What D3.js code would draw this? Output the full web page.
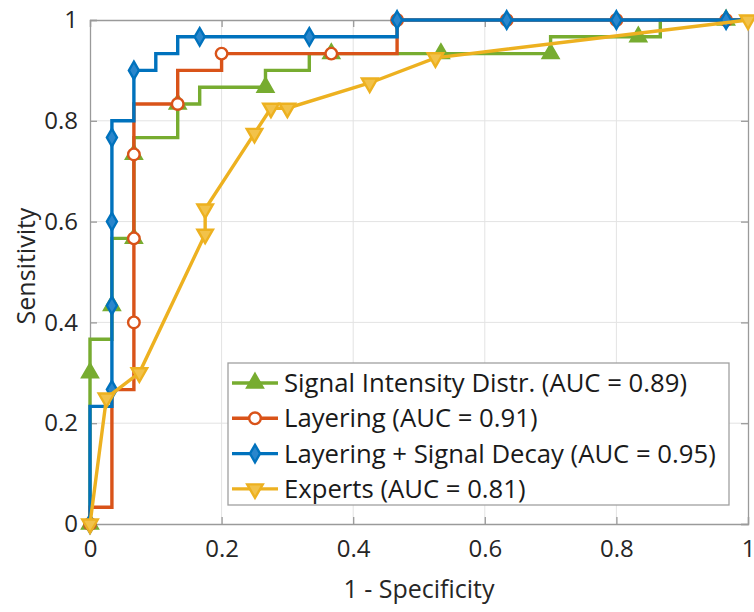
<!DOCTYPE html>
<html>
<head>
<meta charset="utf-8">
<script src="https://cdn.jsdelivr.net/npm/d3@7"></script>
<style>
  body { margin: 0; background: #fff; }
  svg text { font-family: "Open Sans", sans-serif; }
</style>
</head>
<body>
<svg id="chart"></svg>
<script>
// ROC curves (x = 1 - specificity, y = sensitivity)
const sigFpr = [0, 0, 0, 0.0333, 0.0333, 0.0667, 0.0667, 0.1333, 0.1333, 0.1667, 0.1667, 0.2667, 0.2667, 0.3333, 0.3333, 0.7, 0.7, 0.8667, 0.8667, 1];
const sigTpr = [0, 0.3, 0.3667, 0.3667, 0.5667, 0.5667, 0.7667, 0.7667, 0.8333, 0.8333, 0.8667, 0.8667, 0.9, 0.9, 0.9333, 0.9333, 0.9667, 0.9667, 1, 1];
const sigMarkFpr = [0, 0, 0.0333, 0.0667, 0.0667, 0.1333, 0.2667, 0.3667, 0.5333, 0.7, 0.8333, 0.9667];
const sigMarkTpr = [0, 0.3, 0.4333, 0.5667, 0.7333, 0.8333, 0.8667, 0.9333, 0.9333, 0.9333, 0.9667, 1];

const layFpr = [0, 0, 0.0333, 0.0333, 0.0667, 0.0667, 0.1333, 0.1333, 0.2, 0.2, 0.4667, 0.4667, 1];
const layTpr = [0, 0.0333, 0.0333, 0.2667, 0.2667, 0.8333, 0.8333, 0.9, 0.9, 0.9333, 0.9333, 1, 1];
const layMarkFpr = [0, 0.0667, 0.0667, 0.0667, 0.1333, 0.2, 0.3667, 0.4667, 0.6333, 0.8, 0.9667];
const layMarkTpr = [0, 0.4, 0.5667, 0.7333, 0.8333, 0.9333, 0.9333, 1, 1, 1, 1];

const decFpr = [0, 0, 0.0333, 0.0333, 0.0667, 0.0667, 0.1, 0.1, 0.1333, 0.1333, 0.4667, 0.4667, 1];
const decTpr = [0, 0.2333, 0.2333, 0.8, 0.8, 0.9, 0.9, 0.9333, 0.9333, 0.9667, 0.9667, 1, 1];
const decMarkFpr = [0, 0.0333, 0.0333, 0.0333, 0.0333, 0.0667, 0.1667, 0.3333, 0.4667, 0.6333, 0.8, 0.9667];
const decMarkTpr = [0, 0.2667, 0.4333, 0.6, 0.7667, 0.9, 0.9667, 0.9667, 1, 1, 1, 1];

const expFpr = [0, 0.025, 0.075, 0.175, 0.175, 0.25, 0.275, 0.3, 0.425, 0.525, 1];
const expTpr = [0, 0.25, 0.3, 0.575, 0.625, 0.775, 0.825, 0.825, 0.875, 0.925, 1];

const seriesNames = [
  "Signal Intensity Distr. (AUC = 0.89)",
  "Layering (AUC = 0.91)",
  "Layering + Signal Decay (AUC = 0.95)",
  "Experts (AUC = 0.81)"
];
const xTicks = [0, 0.2, 0.4, 0.6, 0.8, 1];
const yTicks = [0, 0.2, 0.4, 0.6, 0.8, 1];

const zip = (xs, ys) => xs.map((x, i) => [x, ys[i]]);

const series = [
  { name: seriesNames[0], color: "#77AC30", symbol: d3.symbolTriangle, size: 105, rot: 0, fill: "#77AC30",
    line: zip(sigFpr, sigTpr), marks: zip(sigMarkFpr, sigMarkTpr) },
  { name: seriesNames[1], color: "#D95319", symbol: d3.symbolCircle, size: 105, rot: 0, fill: "#fff",
    line: zip(layFpr, layTpr), marks: zip(layMarkFpr, layMarkTpr) },
  { name: seriesNames[2], color: "#0072BD", symbol: d3.symbolDiamond, size: 88, rot: 0, fill: "#2a86cc",
    line: zip(decFpr, decTpr), marks: zip(decMarkFpr, decMarkTpr) },
  { name: seriesNames[3], color: "#EDB120", symbol: d3.symbolTriangle, size: 105, rot: 180, fill: "#f2c24a",
    line: zip(expFpr, expTpr), marks: zip(expFpr, expTpr) }
];

const svgWidth = 754, svgHeight = 612;
const margin = { top: 20, right: 6, bottom: 88, left: 90 };
const width = svgWidth - margin.left - margin.right;
const height = svgHeight - margin.top - margin.bottom;

const svg = d3.select("#chart")
  .attr("width", svgWidth)
  .attr("height", svgHeight);

const g = svg.append("g")
  .attr("transform", `translate(${margin.left},${margin.top})`);

const xs = d3.scaleLinear().domain([0, 1]).range([0, width]);
const ys = d3.scaleLinear().domain([0, 1]).range([height, 0]);

// grid
g.append("g").selectAll("line").data(xTicks.slice(1, -1)).join("line")
  .attr("x1", d => xs(d)).attr("x2", d => xs(d))
  .attr("y1", 0).attr("y2", height)
  .attr("stroke", "#e3e3e3").attr("stroke-width", 1);
g.append("g").selectAll("line").data(yTicks.slice(1, -1)).join("line")
  .attr("y1", d => ys(d)).attr("y2", d => ys(d))
  .attr("x1", 0).attr("x2", width)
  .attr("stroke", "#e3e3e3").attr("stroke-width", 1);

// axes with inward ticks, box on all sides
const tickCol = "#262626", axisCol = "#9a9a9a";
const styleAxis = sel => {
  sel.select(".domain").attr("stroke", axisCol).attr("stroke-width", 1.3);
  sel.selectAll(".tick line").attr("stroke", axisCol).attr("stroke-width", 1.3);
  sel.selectAll(".tick text").attr("fill", tickCol).style("font-size", "24px");
};
g.append("g")
  .attr("transform", `translate(0,${height})`)
  .call(d3.axisBottom(xs).tickValues(xTicks).tickSize(-7).tickPadding(16).tickFormat(d3.format("~g")))
  .call(styleAxis);
g.append("g")
  .call(d3.axisLeft(ys).tickValues(yTicks).tickSize(-7).tickPadding(12).tickFormat(d3.format("~g")))
  .call(styleAxis);
g.append("g")
  .call(d3.axisTop(xs).tickValues(xTicks).tickSize(-7).tickFormat(""))
  .call(styleAxis);
g.append("g")
  .attr("transform", `translate(${width},0)`)
  .call(d3.axisRight(ys).tickValues(yTicks).tickSize(-7).tickFormat(""))
  .call(styleAxis);

// curves
const line = d3.line().x(d => xs(d[0])).y(d => ys(d[1]));
series.forEach(s => {
  g.append("path")
    .datum(s.line)
    .attr("fill", "none")
    .attr("stroke", s.color)
    .attr("stroke-width", 3.4)
    .attr("stroke-linejoin", "miter")
    .attr("d", line);
  g.append("g").selectAll("path").data(s.marks).join("path")
    .attr("d", d3.symbol(s.symbol, s.size))
    .attr("transform", d => `translate(${xs(d[0])},${ys(d[1])}) rotate(${s.rot})`)
    .attr("fill", s.fill)
    .attr("stroke", s.color)
    .attr("stroke-width", 2.4);
});

// axis labels
svg.append("text")
  .attr("x", margin.left + width / 2)
  .attr("y", 598)
  .attr("text-anchor", "middle")
  .attr("fill", tickCol)
  .style("font-size", "25px")
  .text("1 - Specificity");
svg.append("text")
  .attr("transform", `translate(35,${margin.top + height / 2 - 6}) rotate(-90)`)
  .attr("text-anchor", "middle")
  .attr("fill", tickCol)
  .style("font-size", "25px")
  .text("Sensitivity");

// legend
const lg = svg.append("g").attr("transform", "translate(228,363)");
lg.append("rect")
  .attr("width", 501).attr("height", 142)
  .attr("fill", "#fff").attr("stroke", "#a0a0a0").attr("stroke-width", 1.3);
series.forEach((s, i) => {
  const cy = 20 + i * 35.3;
  lg.append("line")
    .attr("x1", 4).attr("x2", 50).attr("y1", cy).attr("y2", cy)
    .attr("stroke", s.color).attr("stroke-width", 3.4);
  lg.append("path")
    .attr("d", d3.symbol(s.symbol, s.size))
    .attr("transform", `translate(27,${cy}) rotate(${s.rot})`)
    .attr("fill", s.fill).attr("stroke", s.color).attr("stroke-width", 2.4);
  lg.append("text")
    .attr("x", 56).attr("y", cy)
    .attr("dy", "0.35em")
    .attr("fill", "#1a1a1a")
    .style("font-size", "25.7px")
    .text(s.name);
});
</script>
</body>
</html>
